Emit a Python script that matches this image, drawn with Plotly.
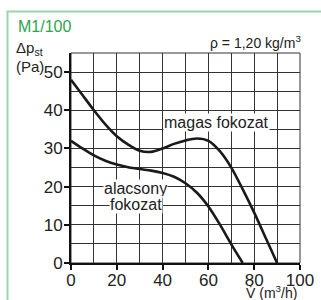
import plotly.graph_objects as go

# Flow rate (m3/h)
flow_high = [0, 5, 10, 15, 20, 25, 30, 35, 40, 45, 50, 55, 60, 65, 70, 75, 80, 85, 90]
dp_high = [48, 44, 40, 36.3, 33.2, 31, 29.4, 29.1, 30, 31.2, 32.1, 32.6, 32, 29.3, 25, 19.3, 13.2, 6.6, 0]

flow_low = [0, 5, 10, 15, 20, 25, 30, 35, 40, 45, 50, 55, 60, 65, 70, 75]
dp_low = [32, 30, 28.2, 26.8, 25.8, 25.1, 24.6, 24.2, 23.6, 22.6, 20.9, 18.4, 14.8, 10.1, 4.9, 0]

x_ticks = [0, 20, 40, 60, 80, 100]
y_ticks = [0, 10, 20, 30, 40, 50]

FONT = "Liberation Sans, Arial, sans-serif"
GREEN = "#2ea44f"
BORDER = "#9ad6a9"
GRID = "#333333"

W, H = 321, 300
L, R, T, B = 71, 21, 53, 37
PW, PH = W - L - R, H - T - B


def px(xp):
    return (xp - L) / PW


def py(yp):
    return (H - B - yp) / PH


fig = go.Figure()
fig.add_trace(go.Scatter(x=flow_high, y=dp_high, mode="lines",
                         line=dict(color="#1a1a1a", width=2.6, shape="spline", smoothing=0.8),
                         hoverinfo="skip", showlegend=False))
fig.add_trace(go.Scatter(x=flow_low, y=dp_low, mode="lines",
                         line=dict(color="#1a1a1a", width=2.6, shape="spline", smoothing=0.8),
                         hoverinfo="skip", showlegend=False))

fig.update_layout(
    width=W, height=H, autosize=False,
    margin=dict(l=L, r=R, t=T, b=B, pad=0, autoexpand=False),
    paper_bgcolor="white", plot_bgcolor="white",
    font=dict(family=FONT, color="#222222"),
    xaxis=dict(range=[0, 100], tickvals=x_ticks, ticktext=[str(v) for v in x_ticks],
               automargin=False, ticklabelstandoff=-4,
               showgrid=True, gridcolor=GRID, gridwidth=1,
               minor=dict(dtick=10, tick0=0, showgrid=True, gridcolor=GRID, gridwidth=1, ticks=""),
               showline=True, linecolor="#111111", linewidth=2,
               ticks="outside", ticklen=5, tickcolor="#111111", tickwidth=1.5,
               tickfont=dict(size=17, family=FONT, color="#222222"), zeroline=False),
    yaxis=dict(range=[0, 55], tickvals=y_ticks, ticktext=[str(v) for v in y_ticks],
               automargin=False, ticklabelstandoff=-2,
               showgrid=True, gridcolor=GRID, gridwidth=1,
               minor=dict(dtick=5, tick0=0, showgrid=True, gridcolor=GRID, gridwidth=1, ticks=""),
               showline=True, linecolor="#111111", linewidth=2,
               ticks="outside", ticklen=5, tickcolor="#111111", tickwidth=1.5,
               tickfont=dict(size=17, family=FONT, color="#222222"), zeroline=False),
)

# plot frame (top & right)
fig.add_shape(type="rect", xref="paper", yref="paper", x0=0, x1=1, y0=0, y1=1,
              line=dict(color=GRID, width=1), layer="below")
# green outer border
fig.add_shape(type="rect", xref="paper", yref="paper",
              x0=px(7.5), x1=px(330), y0=py(310), y1=py(11.5),
              line=dict(color=BORDER, width=2))

ann = [
    dict(text="M1/100", x=px(16), y=py(26), xanchor="left", yanchor="middle",
         font=dict(size=16, color=GREEN)),
    dict(text="Δp<sub>st</sub>", x=px(14), y=py(48), xanchor="left", yanchor="middle",
         font=dict(size=15)),
    dict(text="(Pa)", x=px(14), y=py(66), xanchor="left", yanchor="middle",
         font=dict(size=15)),
    dict(text="ρ = 1,20 kg/m<sup>3</sup>", x=px(303), y=py(42), xanchor="right", yanchor="middle",
         font=dict(size=14)),
    dict(text="V̇ (m<sup>3</sup>/h)", x=px(271), y=py(292), xanchor="center", yanchor="middle",
         font=dict(size=14)),
]
for a in ann:
    fig.add_annotation(xref="paper", yref="paper", showarrow=False, **a)

fig.add_annotation(x=63.5, y=36.8, xref="x", yref="y", text="magas fokozat", showarrow=False,
                   bgcolor="white", borderpad=0, font=dict(size=16, family=FONT, color="#222222"))
fig.add_annotation(x=28.2, y=19.6, xref="x", yref="y", text="alacsony", showarrow=False,
                   bgcolor="white", borderpad=0, font=dict(size=16, family=FONT, color="#222222"))
fig.add_annotation(x=28.4, y=15.4, xref="x", yref="y", text="fokozat", showarrow=False,
                   bgcolor="white", borderpad=0, font=dict(size=16, family=FONT, color="#222222"))

fig.write_html("out.html", config={"displayModeBar": False},
               post_script="document.body.style.margin='0';document.body.style.overflow='hidden';")
